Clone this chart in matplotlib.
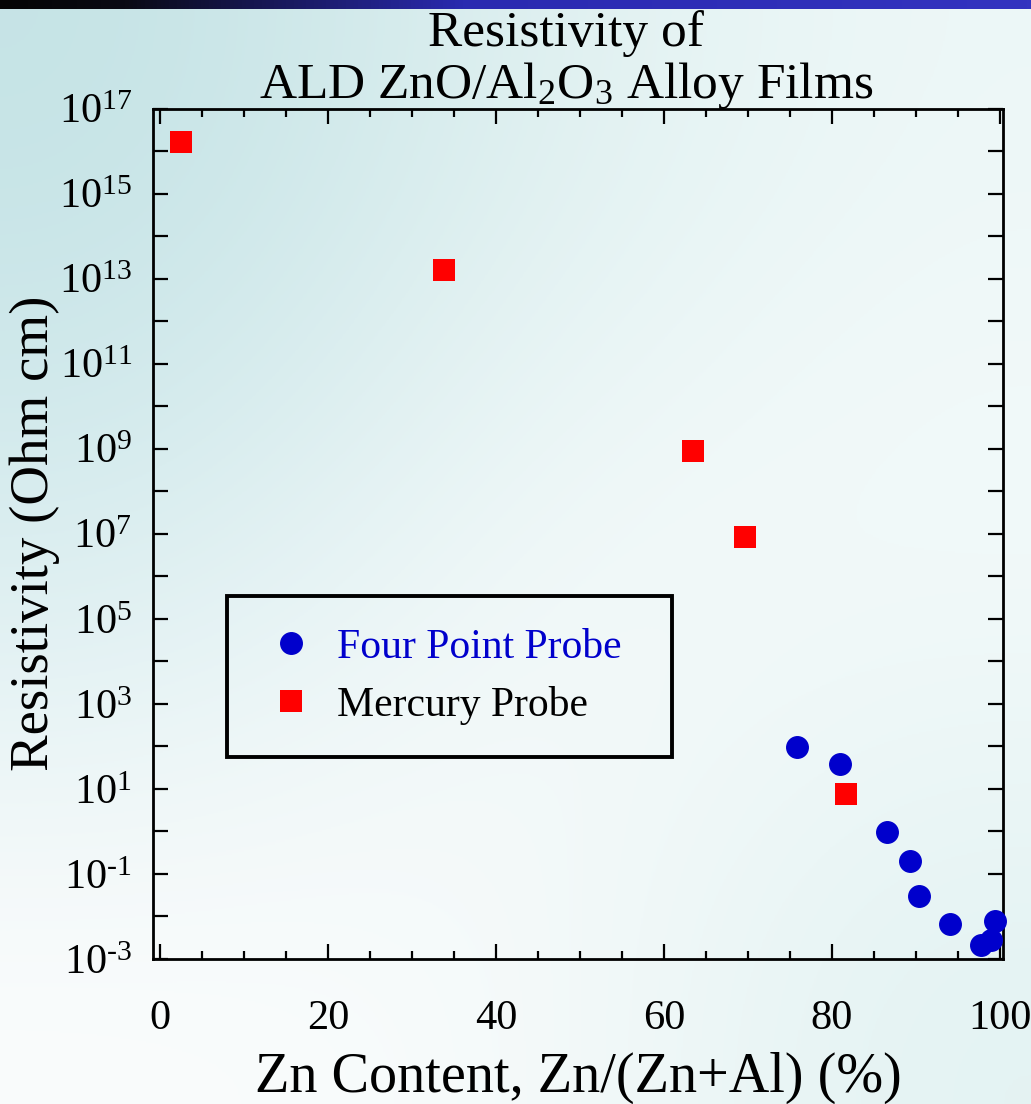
import numpy as np
import matplotlib
matplotlib.use("Agg")
import matplotlib.pyplot as plt
from matplotlib.colors import LinearSegmentedColormap
from matplotlib.ticker import FixedLocator, FixedFormatter, NullFormatter

# ---------------- data ----------------
four_point_x = [75.8, 80.9, 86.5, 89.3, 90.4, 94.1, 97.7, 98.9, 99.4]
four_point_y = [98, 39, 0.95, 0.20, 0.031, 0.0067, 0.0021, 0.0028, 0.0078]
mercury_x = [2.5, 33.8, 63.4, 69.6, 81.7]
mercury_y = [1.6e16, 1.6e13, 8.6e8, 8.5e6, 7.6]

x_ticks_major = [0, 20, 40, 60, 80, 100]
x_ticks_minor = [5, 10, 15, 25, 30, 35, 45, 50, 55, 65, 70, 75, 85, 90, 95]
y_tick_exponents = list(range(-3, 18))
y_label_exponents = list(range(-3, 18, 2))

series_labels = ["Four Point Probe", "Mercury Probe"]
title_text = "Resistivity of\nALD ZnO/Al$_2$O$_3$ Alloy Films"
x_label = "Zn Content, Zn/(Zn+Al) (%)"
y_label = "Resistivity (Ohm cm)"

# ---------------- style ----------------
plt.rcParams["font.family"] = ["Liberation Serif", "DejaVu Serif"]
plt.rcParams["mathtext.fontset"] = "custom"
plt.rcParams["mathtext.rm"] = "Liberation Serif"
plt.rcParams["mathtext.it"] = "Liberation Serif:italic"
plt.rcParams["mathtext.bf"] = "Liberation Serif:bold"

W, H = 1031, 1104
fig = plt.figure(figsize=(W / 100, H / 100), dpi=100)
fig.patch.set_facecolor("white")

# background gradient
bg = fig.add_axes([0, 0, 1, 1], zorder=-10)
grid = np.array([
    [[0.77, 0.89, 0.90], [0.87, 0.94, 0.94], [0.93, 0.97, 0.97]],
    [[0.85, 0.93, 0.94], [0.96, 0.98, 0.98], [0.96, 0.985, 0.985]],
    [[0.985, 0.99, 0.99], [0.97, 0.985, 0.985], [0.89, 0.95, 0.95]],
])
bg.imshow(grid, extent=[0, 1, 0, 1], aspect="auto", interpolation="bicubic")
bg.set_axis_off()

# top dark bar
bar = fig.add_axes([0, 1 - 9 / H, 1, 9 / H], zorder=-5)
cmap_bar = LinearSegmentedColormap.from_list(
    "bar", [(0, "#050505"), (0.12, "#0a0a14"), (0.45, "#2a2ab0"), (1.0, "#3333c0")])
bar.imshow(np.linspace(0, 1, 256)[None, :], cmap=cmap_bar, aspect="auto",
           extent=[0, 1, 0, 1])
bar.set_axis_off()

# main axes
l, r, t, b = 153, 1003, 108.5, 959
ax = fig.add_axes([l / W, 1 - b / H, (r - l) / W, (b - t) / H])
ax.set_facecolor("none")
ax.set_yscale("log")
ax.set_xlim(-0.83, 100.36)
ax.set_ylim(1e-3, 1e17)

ax.plot(four_point_x, four_point_y, linestyle="none", marker="o", ms=15.5,
        color="#0000cc", mec="#0000cc", clip_on=False, zorder=4, label=series_labels[0])
ax.plot(mercury_x, mercury_y, linestyle="none", marker="s", ms=16,
        color="#ff0000", mec="#ff0000", mew=0, clip_on=False, zorder=4, label=series_labels[1])

for s in ax.spines.values():
    s.set_linewidth(2.0)
    s.set_color("black")

ax.xaxis.set_major_locator(FixedLocator(x_ticks_major))
ax.xaxis.set_minor_locator(FixedLocator(x_ticks_minor))
ax.xaxis.set_major_formatter(FixedFormatter([str(v) for v in x_ticks_major]))
ax.xaxis.set_minor_formatter(NullFormatter())

ax.yaxis.set_major_locator(FixedLocator([10.0 ** e for e in y_tick_exponents]))
ylabels = []
for e in y_tick_exponents:
    if e in y_label_exponents:
        s = "\\text{-}%d" % (-e) if e < 0 else "%d" % e
        ylabels.append("10$^{%s}$" % s)
    else:
        ylabels.append("")
ax.yaxis.set_major_formatter(FixedFormatter(ylabels))
ax.yaxis.set_minor_locator(FixedLocator([]))

ax.tick_params(axis="both", which="major", direction="in", length=10.8, width=1.6,
               top=True, right=True, labelsize=30.5, colors="black")
ax.tick_params(axis="x", which="minor", direction="in", length=5.8, width=1.6, top=True)
ax.tick_params(axis="x", which="major", pad=29)
ax.tick_params(axis="y", which="major", pad=15)

ax.set_xlabel(x_label, fontsize=40.5, labelpad=10)
ax.set_ylabel(y_label, fontsize=39.5, labelpad=-1)

fig.text(566 / W, 1 - 10 / H, title_text, fontsize=37, ha="center", va="top",
         linespacing=1.08)

leg = ax.legend(loc="upper left", bbox_to_anchor=(227 / W, 1 - 596 / H - 0.01, 445 / W, 0.01),
                bbox_transform=fig.transFigure, mode="expand", fontsize=30,
                frameon=True, fancybox=False, edgecolor="black", facecolor="none",
                framealpha=1, borderpad=0.78, labelspacing=0.45, handlelength=1.5,
                handletextpad=0.35, borderaxespad=0, markerscale=1.0)
leg.get_frame().set_linewidth(2.8)
leg.get_texts()[0].set_color("#0000cc")
leg.get_texts()[1].set_color("black")

fig.savefig("out.png", dpi=100)
